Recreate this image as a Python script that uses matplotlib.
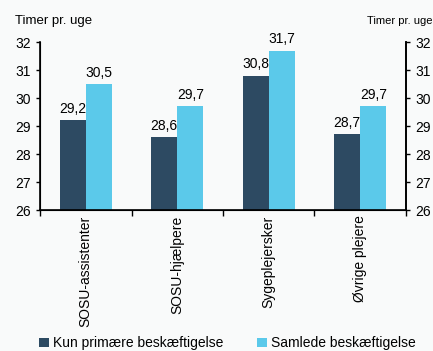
import numpy as np
import matplotlib.pyplot as plt

categories = ['SOSU-assistenter', 'SOSU-hjælpere', 'Sygeplejersker', 'Øvrige plejere']
kun_primaere = [29.2, 28.6, 30.8, 28.7]
samlede = [30.5, 29.7, 31.7, 29.7]
labels_kun = ['29,2', '28,6', '30,8', '28,7']
labels_samlede = ['30,5', '29,7', '31,7', '29,7']

dark = '#2d4a62'
light = '#5bc9ea'
bg = '#f9fafa'

plt.rcParams['font.family'] = ['Liberation Sans', 'DejaVu Sans']

fig = plt.figure(figsize=(4.33, 3.51), dpi=100, facecolor=bg)
ax = fig.add_axes([0.0924, 0.4017, 0.8452, 0.4783], facecolor=bg)

x = np.arange(len(categories))
w = 0.285
b1 = ax.bar(x - w / 2, [v - 26 for v in kun_primaere], w, bottom=26, color=dark,
            label='Kun primære beskæftigelse')
b2 = ax.bar(x + w / 2, [v - 26 for v in samlede], w, bottom=26, color=light,
            label='Samlede beskæftigelse')

for i in range(len(categories)):
    ax.text(x[i] - w / 2, kun_primaere[i] + 0.15, labels_kun[i], ha='center', va='bottom', fontsize=10)
    ax.text(x[i] + w / 2, samlede[i] + 0.15, labels_samlede[i], ha='center', va='bottom', fontsize=10)

ax.set_xlim(-0.5, 3.5)
ax.set_ylim(26, 32)
ax.set_yticks(range(26, 33))
ax.tick_params(axis='y', labelsize=10, direction='out', length=3, width=1)
ax.set_xticks([-0.5, 0.5, 1.5, 2.5, 3.5])
ax.set_xticklabels([])
ax.set_xticks(x, minor=True)
ax.set_xticklabels(categories, minor=True, rotation=90, fontsize=10)
ax.tick_params(axis='x', which='major', direction='out', length=4, width=1)
ax.tick_params(axis='x', which='minor', length=0, pad=4)

ax.spines['top'].set_visible(False)
for s in ['left', 'right', 'bottom']:
    ax.spines[s].set_linewidth(1.2)

ax2 = ax.twinx()
ax2.set_ylim(26, 32)
ax2.set_yticks(range(26, 33))
ax2.tick_params(axis='y', labelsize=10, direction='out', length=3, width=1)
ax2.spines['top'].set_visible(False)
ax2.spines['right'].set_linewidth(1.2)

fig.text(0.035, 0.94, 'Timer pr. uge', fontsize=9.5, ha='left', va='center')
fig.text(0.999, 0.94, 'Timer pr. uge', fontsize=8, ha='right', va='center')

fig.legend(handles=[b1, b2], loc='center', bbox_to_anchor=(0.525, 0.022), ncol=2,
           frameon=False, fontsize=10, handlelength=0.7, handleheight=0.7,
           handletextpad=0.3, columnspacing=2.4)

fig.savefig('out.png', dpi=100, facecolor=bg)
